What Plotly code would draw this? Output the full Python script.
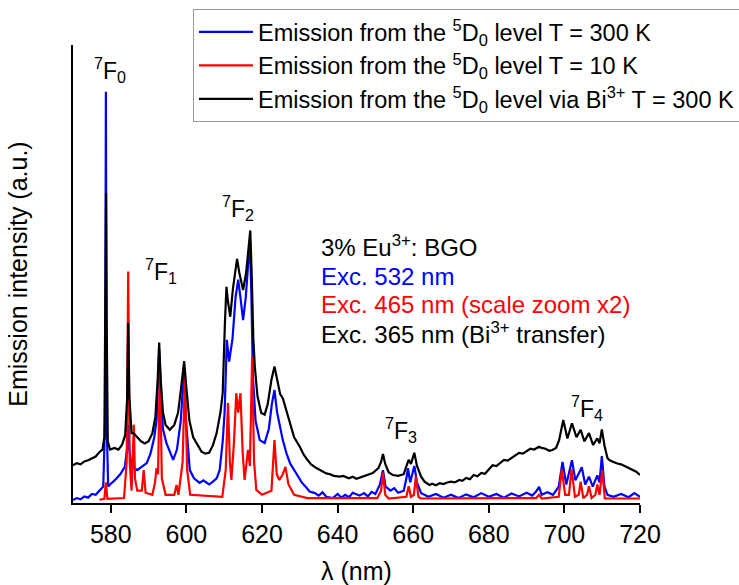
import plotly.graph_objects as go

# Emission spectra of 3% Eu3+:BGO (wavelength in nm, intensity in arbitrary units)

# 5D0 emission at T = 300 K, excitation 532 nm
blue_wl = [570.0, 571.0, 572.0, 573.0, 574.0, 575.0, 576.0, 577.1, 578.0, 578.5, 578.7,
           578.9, 579.3, 579.8, 581.0, 582.5, 583.7, 584.3, 584.6, 584.9, 585.5, 587.0,
           588.5, 589.5, 590.5, 591.5, 592.1, 592.5, 592.8, 593.2, 593.8, 594.7, 596.5,
           597.5, 598.5, 599.0, 599.4, 599.9, 600.9, 602.0, 603.5, 604.5, 606.0, 607.0,
           608.0, 608.8, 609.6, 610.1, 610.7, 611.3, 612.2, 613.0, 613.7, 614.3, 615.0,
           615.7, 616.3, 616.8, 617.2, 617.6, 618.3, 619.4, 620.7, 621.8, 622.6, 623.3,
           624.0, 625.5, 626.5, 627.5, 629.0, 630.5, 631.5, 632.6, 634.0, 635.0, 636.0,
           637.0, 638.7, 640.0, 641.0, 642.0, 643.0, 644.0, 645.8, 647.0, 648.0, 649.0,
           650.0, 651.2, 652.0, 652.7, 654.0, 655.0, 656.0, 657.5, 658.2, 658.6, 659.2,
           660.3, 661.0, 662.1, 663.0, 664.0, 666.0, 668.0, 670.0, 672.0, 674.0, 676.0,
           678.0, 680.0, 682.0, 684.0, 686.0, 688.0, 690.0, 691.5, 692.5, 693.3, 694.0,
           695.5, 697.0, 698.5, 699.5, 700.5, 702.0, 702.9, 704.6, 705.5, 706.5, 707.5,
           708.7, 709.3, 709.9, 710.6, 711.4, 713.0, 715.0, 717.0, 718.5, 720.0]
blue_int = [0.007, 0.012, 0.009, 0.016, 0.013, 0.022, 0.020, 0.032, 0.040, 0.20, 1.000,
            0.20, 0.040, 0.045, 0.055, 0.070, 0.088, 0.13, 0.19, 0.13, 0.090, 0.080,
            0.090, 0.097, 0.12, 0.16, 0.20, 0.30, 0.372, 0.28, 0.18, 0.146, 0.105,
            0.13, 0.20, 0.27, 0.316, 0.20, 0.080, 0.060, 0.049, 0.055, 0.045, 0.052,
            0.060, 0.080, 0.15, 0.219, 0.397, 0.344, 0.40, 0.50, 0.543, 0.50, 0.445,
            0.50, 0.58, 0.64, 0.50, 0.307, 0.20, 0.153, 0.146, 0.18, 0.24, 0.275,
            0.22, 0.153, 0.12, 0.095, 0.073, 0.050, 0.040, 0.028, 0.024, 0.018, 0.026,
            0.015, 0.012, 0.022, 0.013, 0.020, 0.014, 0.025, 0.018, 0.024, 0.016, 0.027,
            0.022, 0.045, 0.080, 0.040, 0.030, 0.036, 0.025, 0.030, 0.060, 0.085, 0.050,
            0.090, 0.050, 0.024, 0.020, 0.015, 0.022, 0.013, 0.020, 0.012, 0.021, 0.014,
            0.024, 0.015, 0.022, 0.013, 0.023, 0.016, 0.025, 0.018, 0.028, 0.039, 0.020,
            0.026, 0.020, 0.040, 0.100, 0.045, 0.104, 0.055, 0.087, 0.045, 0.064, 0.040,
            0.067, 0.050, 0.114, 0.040, 0.020, 0.015, 0.022, 0.014, 0.024, 0.015]

# 5D0 emission at T = 10 K, excitation 465 nm (scale zoom x2)
red_wl = [577.0, 578.3, 578.7, 579.1, 583.5, 584.2, 584.6, 585.0, 585.5, 585.9, 586.1,
          586.4, 587.0, 588.2, 588.7, 589.2, 591.0, 591.7, 592.1, 592.5, 593.0, 593.5,
          594.5, 596.8, 597.4, 597.9, 599.0, 599.6, 600.2, 601.0, 609.5, 610.4, 611.0,
          611.5, 611.9, 612.6, 613.2, 613.7, 614.3, 614.9, 615.4, 616.3, 616.8, 617.4,
          617.9, 618.5, 620.0, 622.5, 623.3, 623.9, 624.6, 625.5, 626.2, 627.0, 628.5,
          632.0, 645.0, 650.5, 651.5, 652.0, 652.6, 653.5, 658.2, 658.8, 659.4, 660.2,
          660.7, 661.4, 662.0, 692.5, 693.3, 694.0, 698.5, 699.3, 700.2, 701.2, 701.9,
          702.8, 703.8, 704.3, 705.0, 706.0, 706.5, 707.2, 708.2, 708.7, 709.3, 710.0,
          710.7, 720.0]
red_int = [0.008, 0.010, 0.050, 0.010, 0.012, 0.10, 0.563, 0.10, 0.030, 0.12, 0.19,
           0.060, 0.030, 0.030, 0.080, 0.025, 0.020, 0.050, 0.085, 0.070, 0.34, 0.060,
           0.020, 0.020, 0.044, 0.020, 0.10, 0.307, 0.080, 0.020, 0.015, 0.080, 0.243,
           0.10, 0.056, 0.15, 0.267, 0.22, 0.267, 0.12, 0.056, 0.129, 0.090, 0.356,
           0.10, 0.032, 0.020, 0.030, 0.153, 0.070, 0.056, 0.070, 0.088, 0.045, 0.020,
           0.012, 0.011, 0.012, 0.030, 0.074, 0.020, 0.011, 0.015, 0.041, 0.015, 0.020,
           0.064, 0.015, 0.011, 0.012, 0.020, 0.011, 0.015, 0.082, 0.020, 0.020, 0.082,
           0.015, 0.020, 0.052, 0.012, 0.020, 0.041, 0.012, 0.020, 0.045, 0.020, 0.080,
           0.011, 0.011]

# 5D0 emission via Bi3+ transfer at T = 300 K, excitation 365 nm
black_wl = [570.0, 571.0, 572.0, 573.0, 574.0, 575.0, 576.0, 577.0, 577.8, 578.3, 578.6,
            578.75, 578.9, 579.2, 579.8, 581.0, 582.0, 583.0, 583.8, 584.3, 584.6, 584.9,
            585.5, 586.0, 587.0, 588.0, 589.0, 590.0, 591.0, 591.8, 592.4, 592.8, 593.2,
            593.8, 594.5, 595.6, 596.8, 597.8, 598.6, 599.4, 600.0, 600.8, 601.8, 603.0,
            604.0, 605.0, 606.0, 607.0, 608.0, 609.0, 609.6, 610.2, 610.6, 611.0, 611.6,
            612.3, 613.0, 613.4, 614.0, 615.0, 615.8, 616.5, 616.9, 617.3, 617.7, 618.1,
            618.8, 619.8, 620.7, 621.5, 622.5, 623.3, 624.0, 624.8, 625.5, 626.3, 627.3,
            628.5, 630.0, 631.0, 632.0, 633.0, 634.4, 635.5, 637.0, 638.0, 639.0, 640.5,
            641.5, 643.0, 644.0, 645.0, 646.0, 647.5, 649.3, 650.8, 651.5, 652.0, 652.6,
            653.5, 654.6, 656.0, 657.5, 658.2, 658.8, 659.4, 660.3, 661.0, 662.1, 663.0,
            664.3, 665.0, 666.0, 667.0, 668.0, 669.0, 670.0, 671.0, 672.2, 673.0, 674.0,
            675.0, 676.0, 677.0, 678.0, 679.0, 680.0, 681.0, 682.0, 683.0, 684.0, 685.0,
            686.0, 687.0, 688.0, 689.0, 690.0, 691.0, 692.0, 693.3, 694.0, 695.0, 696.0,
            696.8, 697.8, 698.6, 699.7, 700.8, 702.0, 703.2, 704.3, 705.3, 706.5, 707.6,
            708.7, 709.3, 709.9, 710.6, 711.4, 712.0, 713.0, 714.0, 715.0, 716.2, 717.0,
            718.0, 719.0, 720.0]
black_int = [0.092, 0.097, 0.094, 0.101, 0.104, 0.109, 0.113, 0.124, 0.130, 0.16, 0.50,
             0.754, 0.45, 0.15, 0.130, 0.134, 0.130, 0.142, 0.165, 0.25, 0.438, 0.26,
             0.17, 0.17, 0.16, 0.15, 0.145, 0.15, 0.17, 0.21, 0.30, 0.39, 0.30,
             0.22, 0.19, 0.178, 0.19, 0.22, 0.28, 0.345, 0.28, 0.20, 0.16, 0.14,
             0.125, 0.12, 0.122, 0.14, 0.17, 0.22, 0.267, 0.44, 0.526, 0.49, 0.453,
             0.52, 0.57, 0.594, 0.56, 0.518, 0.56, 0.63, 0.663, 0.55, 0.40, 0.332,
             0.26, 0.219, 0.215, 0.24, 0.30, 0.332, 0.30, 0.265, 0.255, 0.23, 0.194,
             0.16, 0.137, 0.118, 0.105, 0.094, 0.085, 0.080, 0.072, 0.070, 0.066, 0.064,
             0.066, 0.060, 0.064, 0.059, 0.062, 0.066, 0.073, 0.085, 0.10, 0.119, 0.095,
             0.075, 0.068, 0.066, 0.070, 0.090, 0.105, 0.095, 0.122, 0.090, 0.064, 0.052,
             0.044, 0.047, 0.043, 0.048, 0.046, 0.050, 0.052, 0.050, 0.056, 0.054, 0.061,
             0.058, 0.068, 0.065, 0.073, 0.071, 0.082, 0.092, 0.090, 0.098, 0.105, 0.103,
             0.110, 0.116, 0.122, 0.120, 0.127, 0.132, 0.130, 0.137, 0.134, 0.132, 0.127,
             0.129, 0.134, 0.153, 0.202, 0.157, 0.194, 0.160, 0.178, 0.150, 0.170, 0.141,
             0.157, 0.145, 0.179, 0.140, 0.109, 0.104, 0.100, 0.096, 0.094, 0.088, 0.086,
             0.080, 0.076, 0.068]

# Transition labels: (text, wavelength, intensity)
level_labels = ["<sup>7</sup>F<sub>0</sub>", "<sup>7</sup>F<sub>1</sub>",
                "<sup>7</sup>F<sub>2</sub>", "<sup>7</sup>F<sub>3</sub>",
                "<sup>7</sup>F<sub>4</sub>"]
level_wl = [579.8, 593.2, 613.6, 656.9, 706.0]
level_int = [1.054, 0.564, 0.718, 0.178, 0.231]

# Sample / excitation description block
info_lines = ["3% Eu<sup>3+</sup>: BGO", "Exc. 532 nm", "Exc. 465 nm (scale zoom x2)",
              "Exc. 365 nm (Bi<sup>3+</sup> transfer)"]
info_colors = ["#000000", "#0000FF", "#FF0000", "#000000"]
info_wl = 635.2
info_int = [0.625, 0.552, 0.484, 0.414]

x_ticks = [580, 600, 620, 640, 660, 680, 700, 720]

FONT = "Liberation Sans, Arial, sans-serif"

fig = go.Figure()
fig.add_trace(go.Scatter(x=blue_wl, y=blue_int, mode="lines",
                         line=dict(color="#0000FF", width=2.2),
                         name="Emission from the <sup>5</sup>D<sub>0</sub> level T = 300 K"))
fig.add_trace(go.Scatter(x=red_wl, y=red_int, mode="lines",
                         line=dict(color="#FF0000", width=2.2),
                         name="Emission from the <sup>5</sup>D<sub>0</sub> level T = 10 K"))
fig.add_trace(go.Scatter(x=black_wl, y=black_int, mode="lines",
                         line=dict(color="#000000", width=2.2),
                         name="Emission from the <sup>5</sup>D<sub>0</sub> level via Bi<sup>3+</sup> T = 300 K"))

for txt, wl, val in zip(level_labels, level_wl, level_int):
    fig.add_annotation(x=wl, y=val, text=txt, showarrow=False,
                       font=dict(family=FONT, size=23, color="#000000"),
                       xanchor="center", yanchor="middle")

for txt, col, val in zip(info_lines, info_colors, info_int):
    fig.add_annotation(x=info_wl, y=val, text=txt, showarrow=False,
                       font=dict(family=FONT, size=24, color=col),
                       xanchor="left", yanchor="middle")

fig.update_layout(
    width=739, height=585,
    margin=dict(l=73, r=99, t=45, b=82, autoexpand=False),
    paper_bgcolor="white", plot_bgcolor="white",
    font=dict(family=FONT, size=23, color="#000000"),
    showlegend=True,
    legend=dict(x=0.2116, y=1.0786, xanchor="left", yanchor="top",
                bgcolor="white", bordercolor="#999999", borderwidth=1,
                font=dict(family=FONT, size=23.5, color="#000000"),
                itemwidth=54, tracegroupgap=0),
    xaxis=dict(range=[570, 720], tickvals=x_ticks, ticks="outside", ticklen=8,
               tickwidth=1.5, tickcolor="#000000", showline=True, linecolor="#000000",
               linewidth=1.5, showgrid=False, zeroline=False, mirror=False,
               tickfont=dict(family=FONT, size=25),
               title=dict(text="λ (nm)", font=dict(family=FONT, size=25), standoff=32)),
    yaxis=dict(range=[0, 1.114], showticklabels=False, ticks="", showline=True,
               linecolor="#000000", linewidth=1.5, showgrid=False, zeroline=False,
               mirror=False,
               title=dict(text="Emission intensity (a.u.)", font=dict(family=FONT, size=25),
                          standoff=37)),
)

fig.write_html("out.html")
